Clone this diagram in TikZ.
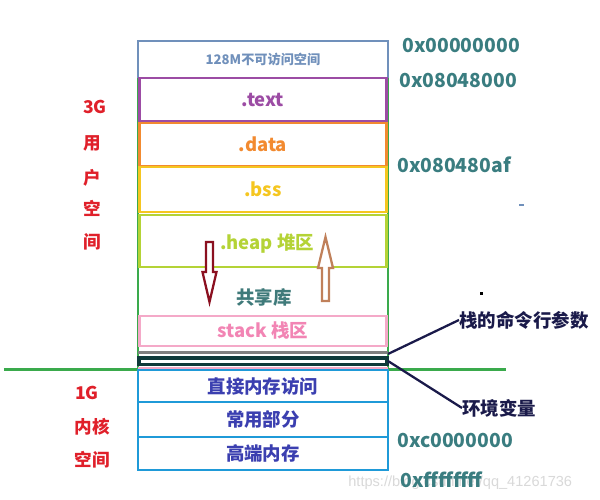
\documentclass[tikz,border=0pt]{standalone}
\usepackage{fontspec}
\setmainfont{Noto Sans CJK SC}
\newfontfamily\wmfont{Liberation Sans}
\definecolor{cgray}{HTML}{7090BB}
\definecolor{cpurple}{HTML}{9C4CA4}
\definecolor{corange}{HTML}{F28A30}
\definecolor{cyellow}{HTML}{F5C620}
\definecolor{cygreen}{HTML}{B4D336}
\definecolor{cgreen}{HTML}{3AAA4C}
\definecolor{cteal}{HTML}{3F7A7A}
\definecolor{cpink}{HTML}{F4A9C8}
\definecolor{cpinktxt}{HTML}{F285B4}
\definecolor{cdark}{HTML}{0F3A3A}
\definecolor{cblue}{HTML}{1F9AD8}
\definecolor{cindigo}{HTML}{3B3FB0}
\definecolor{cred}{HTML}{E0202A}
\definecolor{caddr}{HTML}{3A7D80}
\definecolor{cdarkred}{HTML}{8B1020}
\definecolor{cbrown}{HTML}{C0805A}
\definecolor{cnavy}{HTML}{1A1A4A}
\begin{document}
\begin{tikzpicture}[x=0.02cm,y=-0.02cm,
  seg/.style={draw, line width=1.5pt, inner sep=0pt, minimum width=4.94cm, font=\bfseries\fontsize{10.5}{12}\selectfont},
  kbox/.style={seg, draw=cblue, text=cindigo, minimum width=5cm},
  addr/.style={text=caddr, font=\bfseries\fontsize{11}{13}\selectfont, anchor=west, inner sep=0pt},
  side/.style={text=cred, font=\bfseries\fontsize{10}{12}\selectfont, inner sep=0pt},
  lead/.style={draw=cnavy, line width=1.3pt},
  note/.style={text=cnavy, font=\bfseries\fontsize{10.5}{12}\selectfont, anchor=west, inner sep=0pt}]
\useasboundingbox (0,0) rectangle (600,500);
\fill[white] (0,0) rectangle (600,500);
% watermark
\node[text=black!15, font=\wmfont\fontsize{8.3}{10}\selectfont, anchor=west, inner sep=0pt] (wm) at (348,483) {https://blog.csdn.net/qq\_41261736};
% outer top box
\node[seg, draw=cgray, text=cgray, minimum width=5cm, minimum height=0.74cm, font=\bfseries\fontsize{7.5}{9}\selectfont] (top) at (263,59.5) {128M不可访问空间};
% green frame
\draw[cgreen, line width=1.5pt] (138,78) -- (138,369);
\draw[cgreen, line width=1.5pt] (388,78) -- (388,369);
% user segments
\node[seg, draw=cpurple, text=cpurple, minimum height=0.86cm] (text) at (263,99.5) {.text};
\node[seg, draw=corange, text=corange, minimum height=0.86cm] (data) at (263,144.5) {.data};
\node[seg, draw=cyellow, text=cyellow, minimum height=0.9cm] (bss) at (263,189.5) {.bss};
\node[seg, draw=cygreen, minimum height=1.04cm] (heap) at (263,241) {};
\node[text=cygreen, font=\bfseries\fontsize{10.5}{12}\selectfont, inner sep=0pt] (heapt) at (267,244) {.heap 堆区};
\node[text=cteal, font=\bfseries\fontsize{10.5}{12}\selectfont, inner sep=0pt] (shared) at (264,297) {共享库};
\node[seg, draw=cpink, text=cpinktxt, minimum height=0.6cm] (stack) at (263,331) {stack 栈区};
% args / env strip
\draw[gray, line width=1.8pt] (138,352.5) -- (388,352.5);
\draw[cdark, line width=1.9pt] (139,358) rectangle (387,364.5);
\draw[cpink, line width=1.3pt] (138,368.5) -- (388,368.5);
\coordinate (argsp) at (388,354);
\coordinate (envp) at (388,361);
% boundary line
\draw[cgreen, line width=1.5pt] (4,369.5) -- (138,369.5);
\draw[cgreen, line width=1.5pt] (388,369.5) -- (506,369.5);
% kernel segments
\node[kbox, minimum height=0.64cm] (direct) at (263,386) {直接内存访问};
\node[kbox, minimum height=0.7cm] (common) at (263,419.5) {常用部分};
\node[kbox, minimum height=0.66cm] (high) at (263,453.5) {高端内存};
% hollow arrows
\draw[cdarkred, line width=1.3pt, fill=white] (206,242) -- (213,242) -- (213,272) -- (216.5,272) -- (209.5,302) -- (202.5,272) -- (206,272) -- cycle;
\draw[cbrown, line width=1.3pt, fill=white] (322,301) -- (329,301) -- (329,268) -- (333,268) -- (325.5,237) -- (318,268) -- (322,268) -- cycle;
% leader notes
\node[note] (args) at (459,320) {栈的命令行参数};
\node[note] (env) at (462,408) {环境变量};
\draw[lead] (argsp) -- (args.west);
\draw[lead] (envp) -- (env.west);
% stray marks
\fill[black] (480.5,292.5) rectangle (483.5,295.5);
\fill[cgray] (519.5,204) rectangle (524,206);
% addresses
\node[addr] (a0) at (402,45) {0x00000000};
\node[addr] (a1) at (399,80) {0x08048000};
\node[addr] (a2) at (397,165) {0x080480af};
\node[addr] (a3) at (397,440) {0xc0000000};
\node[addr] (a4) at (400,480) {0xffffffff};
% side labels
\node[side] (g3) at (95,107) {3G};
\node[side] (u1) at (92,143) {用};
\node[side] (u2) at (92,178) {户};
\node[side] (u3) at (92,208) {空};
\node[side] (u4) at (92,242) {间};
\node[side] (g1) at (87,393) {1G};
\node[side] (k1) at (92,427) {内核};
\node[side] (k2) at (92,460) {空间};
\end{tikzpicture}
\end{document}
